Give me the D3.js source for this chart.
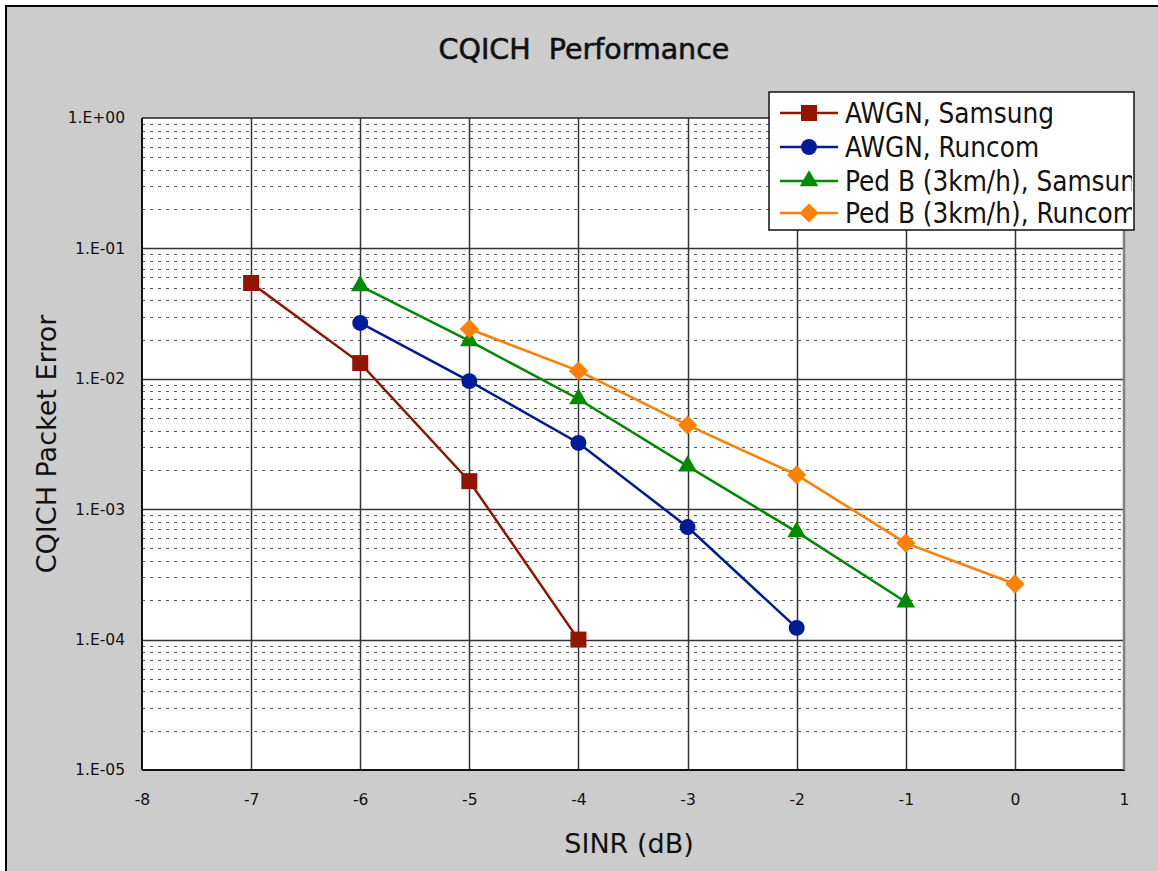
<!DOCTYPE html>
<html><head><meta charset="utf-8">
<script src="https://cdn.jsdelivr.net/npm/d3@7"></script>
<style>
html,body{margin:0;padding:0;background:#fff;}
svg{display:block;}
text{font-family:"DejaVu Sans",sans-serif;}
</style></head>
<body><svg id="chart" width="1158" height="871"></svg>
<script>
// ---- data ----
const chartTitle = "CQICH  Performance";
const xLabel = "SINR (dB)";
const yLabel = "CQICH Packet Error";
const xTicks = [-8,-7,-6,-5,-4,-3,-2,-1,0,1];
const yTicks = [1,1e-1,1e-2,1e-3,1e-4,1e-5];
const yTickLabels = ["1.E+00","1.E-01","1.E-02","1.E-03","1.E-04","1.E-05"];
const seriesNames = ["AWGN, Samsung","AWGN, Runcom","Ped B (3km/h), Samsung","Ped B (3km/h), Runcom"];
const awgnSamsungX = [-7,-6,-5,-4];
const awgnSamsungY = [0.0543,0.0132,0.00164,0.0001];
const awgnRuncomX = [-6,-5,-4,-3,-2];
const awgnRuncomY = [0.0268,0.0096,0.00322,0.00073,0.000123];
const pedBSamsungX = [-6,-5,-4,-3,-2,-1];
const pedBSamsungY = [0.0515,0.0195,0.0070,0.00214,0.00067,0.000194];
const pedBRuncomX = [-5,-4,-3,-2,-1,0];
const pedBRuncomY = [0.0241,0.0115,0.00442,0.00183,0.00055,0.000267];

const colors = ["#911500","#001b96","#008a00","#ff7f00"];
const series = [
  {name:seriesNames[0], x:awgnSamsungX, y:awgnSamsungY},
  {name:seriesNames[1], x:awgnRuncomX, y:awgnRuncomY},
  {name:seriesNames[2], x:pedBSamsungX, y:pedBSamsungY},
  {name:seriesNames[3], x:pedBRuncomX, y:pedBRuncomY}
];
const markerPath = [
  d3.symbol(d3.symbolSquare,256)(),
  d3.symbol(d3.symbolCircle,200)(),
  d3.symbol(d3.symbolTriangle,150)(),
  d3.symbol(d3.symbolSquare,185)()
];
const markerRot = [0,0,0,45];

// ---- layout ----
const svg = d3.select("#chart");
const L=142, R=1124, T=118, B=770;

svg.append("rect").attr("x",6).attr("y",6).attr("width",1200).attr("height",900)
  .attr("fill","#cccccc").attr("stroke","#000").attr("stroke-width",2);

const x = d3.scaleLinear().domain([-8,1]).range([L,R]);
const y = d3.scaleLog().domain([1e-5,1]).range([B,T]);

svg.append("rect").attr("x",L).attr("y",T).attr("width",R-L).attr("height",B-T).attr("fill","#fff");

// minor grid
const minor=[];
for(let e=-5;e<0;e++){ for(let m=2;m<=9;m++){ minor.push(m*Math.pow(10,e)); } }
svg.append("g").selectAll("line").data(minor).join("line")
  .attr("x1",L).attr("x2",R).attr("y1",d=>Math.round(y(d))+0.5).attr("y2",d=>Math.round(y(d))+0.5)
  .attr("stroke","#555").attr("stroke-width",1).attr("stroke-dasharray","3,5");

// major grid
svg.append("g").selectAll("line").data(yTicks.slice(1,5)).join("line")
  .attr("x1",L).attr("x2",R).attr("y1",d=>Math.round(y(d))+0.5).attr("y2",d=>Math.round(y(d))+0.5)
  .attr("stroke","#333").attr("stroke-width",1.5);
svg.append("g").selectAll("line").data(xTicks.slice(1,9)).join("line")
  .attr("y1",T).attr("y2",B).attr("x1",d=>Math.round(x(d))+0.5).attr("x2",d=>Math.round(x(d))+0.5)
  .attr("stroke","#333").attr("stroke-width",1.5);

// border
svg.append("line").attr("x1",L).attr("x2",R).attr("y1",T).attr("y2",T).attr("stroke","#222").attr("stroke-width",1.5);
svg.append("line").attr("x1",L).attr("x2",L).attr("y1",T).attr("y2",B).attr("stroke","#111").attr("stroke-width",2);
svg.append("line").attr("x1",L).attr("x2",R+1).attr("y1",B).attr("y2",B).attr("stroke","#111").attr("stroke-width",2);
svg.append("line").attr("x1",R).attr("x2",R).attr("y1",T).attr("y2",B).attr("stroke","#808080").attr("stroke-width",2.5);

// axes (labels only)
const xAxis = d3.axisBottom(x).tickValues(xTicks).tickSize(0).tickPadding(24).tickFormat(d=>String(d));
const gx = svg.append("g").attr("transform",`translate(0,${B})`).call(xAxis);
gx.select(".domain").remove();
gx.selectAll("text").attr("font-size",15.5).attr("fill","#111").style("font-family","DejaVu Sans");

const yAxis = d3.axisLeft(y).tickValues(yTicks).tickSize(0).tickPadding(17).tickFormat((d,i)=>yTickLabels[i]);
const gy = svg.append("g").attr("transform",`translate(${L},0)`).call(yAxis);
gy.select(".domain").remove();
gy.selectAll("text").attr("font-size",15.5).attr("fill","#111").style("font-family","DejaVu Sans");

// series
const line = d3.line().x(d=>x(d[0])).y(d=>y(d[1]));
series.forEach((s,i)=>{
  const pts = s.x.map((v,j)=>[v,s.y[j]]);
  svg.append("path").datum(pts).attr("d",line).attr("fill","none")
    .attr("stroke",colors[i]).attr("stroke-width",2.5);
  svg.append("g").selectAll("path").data(pts).join("path")
    .attr("transform",d=>`translate(${x(d[0])},${y(d[1])}) rotate(${markerRot[i]})`)
    .attr("d",markerPath[i]).attr("fill",colors[i]);
});

// title & axis labels
svg.append("text").attr("x",584).attr("y",59).attr("text-anchor","middle")
  .attr("font-size",28.5).attr("stroke","#111").attr("stroke-width",0.6)
  .style("white-space","pre").attr("fill","#111").text(chartTitle);
svg.append("text").attr("x",629).attr("y",853).attr("text-anchor","middle")
  .attr("font-size",27).attr("fill","#111").text(xLabel);
svg.append("text").attr("transform","translate(56,444) rotate(-90)").attr("text-anchor","middle")
  .attr("font-size",27).attr("fill","#111").text(yLabel);

// legend
const lx=769, ly=92, lw=365, lh=138;
svg.append("clipPath").attr("id","legclip").append("rect").attr("x",lx).attr("y",ly).attr("width",lw-2).attr("height",lh);
const lg = svg.append("g");
lg.append("rect").attr("x",lx).attr("y",ly).attr("width",lw).attr("height",lh)
  .attr("fill","#fff").attr("stroke","#111").attr("stroke-width",1.5);
const lgc = lg.append("g").attr("clip-path","url(#legclip)");
const rowY=[113,147,181,213];
series.forEach((s,i)=>{
  lgc.append("line").attr("x1",780).attr("x2",838).attr("y1",rowY[i]).attr("y2",rowY[i])
    .attr("stroke",colors[i]).attr("stroke-width",2.5);
  lgc.append("path").attr("transform",`translate(809,${rowY[i]}) rotate(${markerRot[i]})`)
    .attr("d",markerPath[i]).attr("fill",colors[i]);
  lgc.append("text").attr("x",845).attr("y",rowY[i]+10).attr("font-size",27.6)
    .style("font-family","DejaVu Sans Condensed").attr("fill","#111").text(s.name);
});
</script></body></html>
